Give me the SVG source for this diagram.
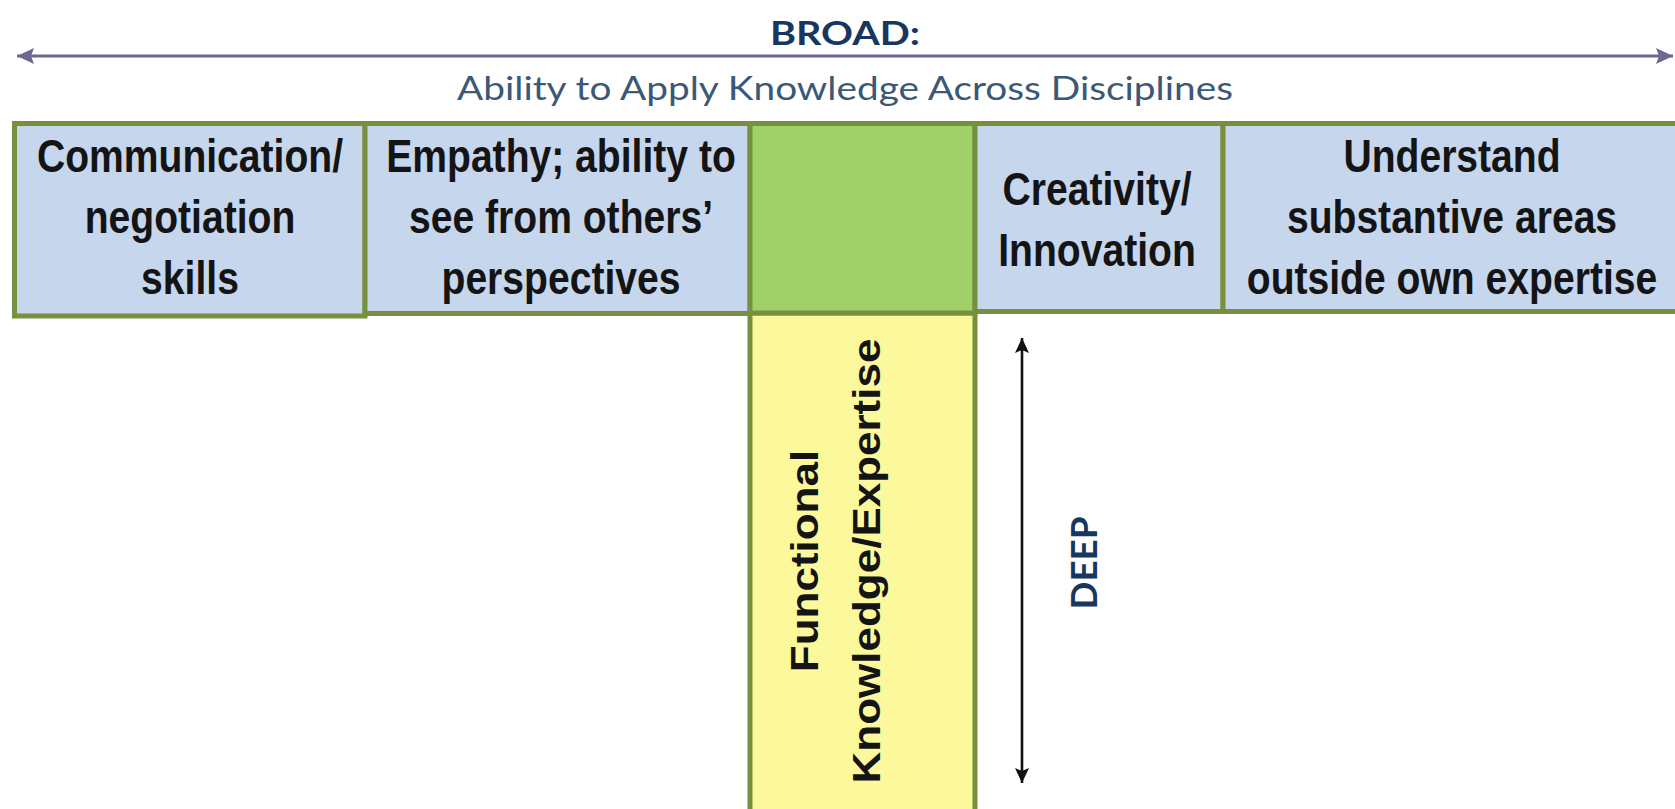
<svg xmlns="http://www.w3.org/2000/svg" width="1675" height="809" viewBox="0 0 1675 809">
<defs>
<style>
.box{stroke:#76903f;stroke-width:5;}
.blue{fill:#c6d6ec;}
.green{fill:#a0d168;}
.yellow{fill:#fcf99c;}
.lbl{font-family:"Liberation Sans",Arial,sans-serif;font-weight:bold;font-size:46px;fill:#141414;text-anchor:middle;}
.vlbl{font-family:"Liberation Sans",Arial,sans-serif;font-weight:bold;font-size:44px;fill:#141414;text-anchor:middle;}
.title{font-family:Lato,"Open Sans",sans-serif;font-weight:bold;fill:#17375e;text-anchor:middle;}
.sub{font-family:Lato,"Open Sans",sans-serif;fill:#3b5877;text-anchor:middle;}
.conn{fill:none;}
</style>
<marker id="ahP" markerUnits="userSpaceOnUse" markerWidth="18" markerHeight="16" refX="17" refY="8" orient="auto-start-reverse"><path d="M0,0 L17,8 L0,16 L3,8 z" fill="#716591"/></marker>
<marker id="ahK" markerUnits="userSpaceOnUse" markerWidth="16" markerHeight="14" refX="15" refY="7" orient="auto-start-reverse"><path d="M0,0 L15,7 L0,14 L3,7 z" fill="#111"/></marker>
</defs>
<rect width="1675" height="809" fill="#ffffff"/>

<g id="titles">
<text class="title" x="845" y="45" font-size="33" textLength="150" lengthAdjust="spacingAndGlyphs">BROAD:</text>
<text class="sub" x="845" y="100" font-size="32" textLength="776" lengthAdjust="spacingAndGlyphs">Ability to Apply Knowledge Across Disciplines</text>
</g>

<g id="connectors">
<line class="conn" x1="17" y1="56" x2="1673" y2="56" stroke="#716591" stroke-width="3" marker-start="url(#ahP)" marker-end="url(#ahP)"/>
<line class="conn" x1="1022" y1="338" x2="1022" y2="783" stroke="#111" stroke-width="2.6" marker-start="url(#ahK)" marker-end="url(#ahK)"/>
</g>

<g id="node-communication">
<rect class="box blue" x="14.5" y="123.5" width="350.5" height="192.5"/>
<g transform="translate(190,0) scale(0.85,1)">
<text class="lbl" x="0" y="172">Communication/</text>
<text class="lbl" x="0" y="233">negotiation</text>
<text class="lbl" x="0" y="294">skills</text>
</g>
</g>

<g id="node-empathy">
<rect class="box blue" x="365" y="123.5" width="385" height="190"/>
<g transform="translate(561,0) scale(0.85,1)">
<text class="lbl" x="0" y="172">Empathy; ability to</text>
<text class="lbl" x="0" y="233">see from others’</text>
<text class="lbl" x="0" y="294">perspectives</text>
</g>
</g>

<g id="node-functional">
<rect class="box yellow" x="750" y="313" width="225" height="510"/>
<rect class="box green" x="750" y="123.5" width="225" height="189.5"/>
<g transform="translate(818,561) scale(0.87,1) rotate(-90)">
<text class="vlbl" x="0" y="0">Functional</text>
</g>
<g transform="translate(880,561) scale(0.87,1) rotate(-90)">
<text class="vlbl" x="0" y="0">Knowledge/Expertise</text>
</g>
</g>

<g id="node-creativity">
<rect class="box blue" x="975" y="123.5" width="248" height="188"/>
<g transform="translate(1097,0) scale(0.85,1)">
<text class="lbl" x="0" y="205">Creativity/</text>
<text class="lbl" x="0" y="266">Innovation</text>
</g>
</g>

<g id="node-understand">
<rect class="box blue" x="1223" y="123.5" width="470" height="188"/>
<g transform="translate(1452,0) scale(0.85,1)">
<text class="lbl" x="0" y="172">Understand</text>
<text class="lbl" x="0" y="233">substantive areas</text>
<text class="lbl" x="0" y="294">outside own expertise</text>
</g>
</g>

<g id="label-deep">
<g transform="translate(1097,563) rotate(-90)">
<text class="title" x="0" y="0" font-size="36" textLength="93" lengthAdjust="spacingAndGlyphs">DEEP</text>
</g>
</g>
</svg>
